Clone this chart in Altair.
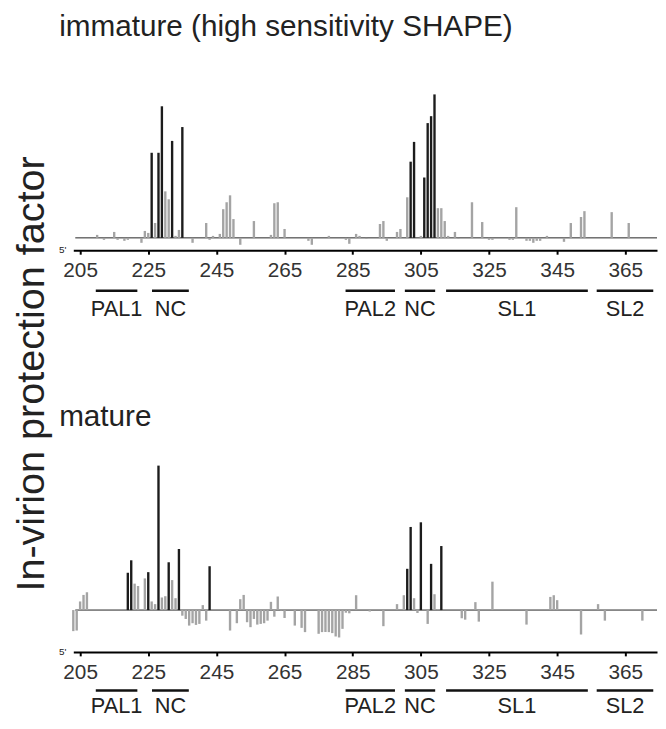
import altair as alt
import pandas as pd

# ---------------- data ----------------
# immature (high sensitivity SHAPE)
top_gray_nt = [210, 212, 215, 216, 218, 219, 223, 224, 225, 227, 230, 231, 233, 234, 238, 242, 243, 244,
               246, 247, 248, 249, 250, 252, 256, 261, 262, 263, 265, 272, 273, 278, 283, 284, 286, 287,
               289, 293, 294, 295, 298, 299, 301, 305, 310, 311, 312, 313, 315, 316, 320, 323, 325, 326,
               331, 332, 333, 336, 337, 338, 339, 340, 342, 347, 349, 352, 353, 361, 366]
top_gray_val = [0.3, -0.2, 0.6, -0.2, -0.3, -0.2, -0.5, 0.7, 0.5, 1.5, 4.7, 3.9, 0.2, 0.8, -0.5, 1.5, -0.2, 0.2,
                0.4, 2.9, 3.6, 4.3, 1.9, -0.7, 1.7, 0.3, 3.5, 3.6, 0.9, -0.3, -0.7, 0.2, -0.2, -0.6, 0.4, 0.2,
                -0.1, 1.4, 1.7, -0.3, 0.6, 0.9, 4.1, 0.2, 3.0, 3.0, 1.7, 0.2, 0.6, -0.1, 3.6, 1.6, -0.2, -0.2,
                -0.2, -0.2, 3.1, -0.3, -0.3, -0.5, -0.3, -0.3, 0.2, -0.4, 1.5, 2.1, 2.7, 2.6, 1.5]
top_black_nt = [226, 228, 229, 232, 235, 302, 303, 306, 307, 308, 309]
top_black_val = [8.6, 8.6, 13.3, 9.8, 11.2, 7.7, 9.7, 6.1, 11.6, 12.3, 14.5]

# mature
bot_gray_nt = [203, 204, 205, 206, 207, 221, 222, 224, 226, 227, 229, 230, 232, 233, 235, 236, 237, 238,
               239, 240, 241, 242, 249, 251, 252, 253, 254, 255, 256, 257, 258, 259, 260, 261, 262, 263,
               264, 265, 268, 270, 271, 275, 276, 277, 278, 279, 280, 281, 282, 283, 284, 286, 290, 294,
               298, 300, 303, 304, 307, 309, 310, 317, 318, 321, 322, 326, 336, 343, 344, 345, 352, 357,
               359, 370]
bot_gray_val = [-2.13, -2.07, 0.87, 1.53, 1.8, 2.67, 2.43, 3.2, 0.87, 0.6, 1.27, 1.4, 3.03, 1.2, -0.57, -0.9,
                -1.57, -1.33, -1.5, -1.4, 0.5, -1.07, -2.07, -1.33, 1.1, 1.53, -1.23, -1.73, -0.9, -1.47,
                -1.4, -1.33, -1.07, 0.83, -0.67, 1.37, -0.05, -0.8, -1.57, -1.8, -2.23, -2.4, -2.23, -2.23,
                -2.23, -2.33, -2.67, -2.77, -1.9, -0.27, -0.33, 1.5, -0.15, -1.63, 0.6, 1.5, 1.2, -0.3, -1.4,
                1.6, 0.1, -0.83, -0.97, 0.8, -1.17, 2.87, -1.47, 1.33, 1.5, 1.0, -2.47, 0.6, -1.07, -1.07]
bot_black_nt = [219, 220, 225, 228, 231, 234, 243, 301, 302, 305, 308, 311]
bot_black_val = [3.77, 5.03, 3.83, 14.6, 4.83, 6.17, 4.43, 4.17, 8.4, 8.87, 4.67, 6.47]

tick_values = [205, 225, 245, 265, 285, 305, 325, 345, 365]

seg_names = ["PAL1", "NC", "PAL2", "NC", "SL1", "SL2"]
seg_start = [209.6, 226.1, 282.9, 300.3, 312.4, 356.6]
seg_end = [221.8, 236.9, 297.4, 309.2, 354.0, 373.2]

titles = ["immature (high sensitivity SHAPE)", "mature"]
y_title = "In-virion protection factor"
five_prime = "5'"

# ---------------- styling ----------------
FONT = "Liberation Sans"
GRAY = "#a4a4a4"
BLACK = "#1c1c1c"
TEXT = "#222222"
W = 590
X_DOMAIN = [203, 374.3]

seg_df = pd.DataFrame({"name": seg_names, "start": seg_start, "end": seg_end})
seg_df["mid"] = (seg_df["start"] + seg_df["end"]) / 2

xscale = alt.Scale(domain=X_DOMAIN, nice=False, zero=False, padding=0)
xaxis = alt.Axis(values=tick_values, format="d", grid=False, domainColor="black", domainWidth=2,
                 tickColor="black", tickWidth=2, tickSize=4, labelFontSize=21, labelColor="#333333",
                 labelPadding=6, labelFont=FONT, labelFlush=False, labelOverlap=False, title=None)


def panel(g_nt, g_val, b_nt, b_val, title, H, ydom, title_y, seg_y, lab_y, with_ytitle):
    yscale = alt.Scale(domain=ydom, nice=False, zero=False, padding=0)
    X = lambda f: alt.X(f, scale=xscale, axis=xaxis, title=None)
    gdf = pd.DataFrame({"nt": g_nt, "v": g_val})
    bdf = pd.DataFrame({"nt": b_nt, "v": b_val})

    zero = alt.Chart(pd.DataFrame({"z": [0]})).mark_rule(color="#222222", strokeWidth=1).encode(
        y=alt.Y("z:Q", scale=yscale, axis=None), x=alt.value(2), x2=alt.value(W))
    gray = alt.Chart(gdf).mark_bar(color=GRAY, size=2.4, orient="vertical").encode(
        x=X("nt:Q"), y=alt.Y("v:Q", scale=yscale, axis=None), y2=alt.datum(0))
    black = alt.Chart(bdf).mark_bar(color=BLACK, size=2.4, orient="vertical").encode(
        x=X("nt:Q"), y=alt.Y("v:Q", scale=yscale, axis=None), y2=alt.datum(0))
    segs = alt.Chart(seg_df).mark_rule(color="#111111", strokeWidth=2.5).encode(
        x=X("start:Q"), x2="end:Q", y=alt.value(seg_y))
    seglab = alt.Chart(seg_df).mark_text(font=FONT, fontSize=22, color=TEXT, align="center",
                                         baseline="alphabetic").encode(
        x=X("mid:Q"), y=alt.value(lab_y), text="name:N")
    ttl = alt.Chart(pd.DataFrame({"t": [title]})).mark_text(
        font=FONT, fontSize=30, color=TEXT, align="left", baseline="alphabetic").encode(
        x=alt.value(-14.3), y=alt.value(title_y), text="t:N")
    fp = alt.Chart(pd.DataFrame({"t": [five_prime]})).mark_text(
        font=FONT, fontSize=10, color=TEXT, align="right", baseline="alphabetic").encode(
        x=alt.value(-7), y=alt.value(H + 3), text="t:N")
    layers = [zero, gray, black, segs, seglab, ttl, fp]
    if with_ytitle:
        yt = alt.Chart(pd.DataFrame({"t": [y_title]})).mark_text(
            font=FONT, fontSize=40, color=TEXT, align="center", baseline="alphabetic", angle=270).encode(
            x=alt.value(-29.3), y=alt.value(294), text="t:N")
        layers.append(yt)
    return alt.layer(*layers).properties(width=W, height=H)


p1 = panel(top_gray_nt, top_gray_val, top_black_nt, top_black_val, titles[0],
           169, [-1.25, 15.65], -48, 210, 235, True)
p2 = panel(bot_gray_nt, bot_gray_val, bot_black_nt, bot_black_val, titles[1],
           200, [-4.23, 15.77], -28.3, 239, 262, False)

chart = alt.vconcat(p1, p2, spacing=206, bounds="flush").properties(
    padding={"left": 4, "top": 0, "right": 0, "bottom": 0}
).configure(font=FONT).configure_view(stroke=None, strokeWidth=0)

chart.save("out.html", embed_options={"renderer": "svg", "actions": False})
